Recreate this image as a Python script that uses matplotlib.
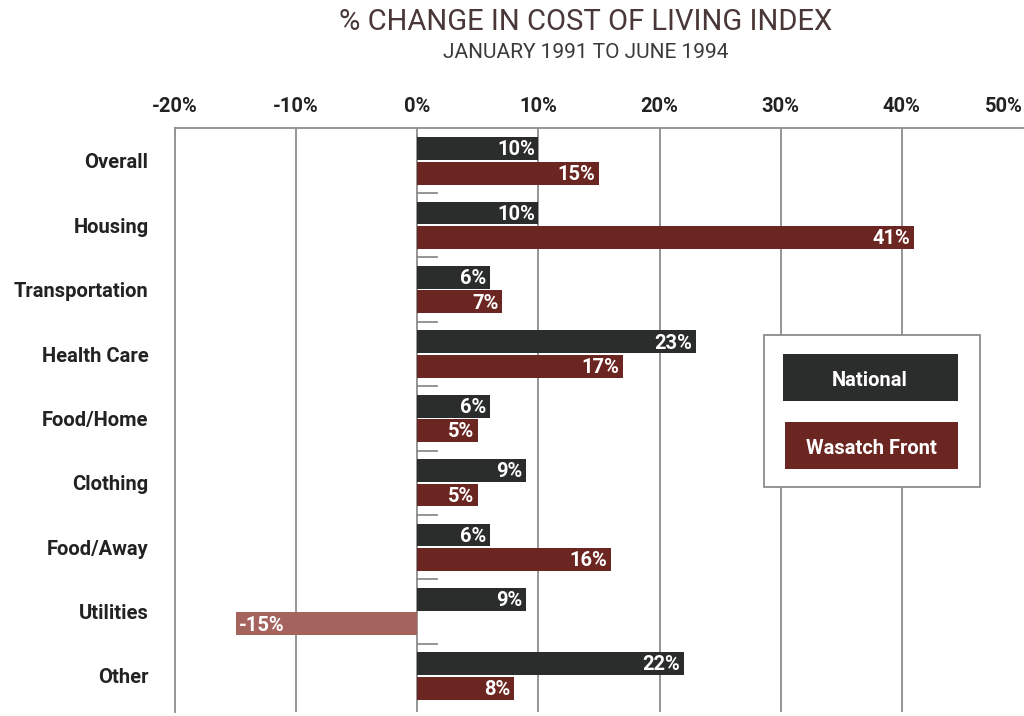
import matplotlib.pyplot as plt
from matplotlib.patches import Rectangle

categories = ['Overall', 'Housing', 'Transportation', 'Health Care', 'Food/Home',
              'Clothing', 'Food/Away', 'Utilities', 'Other']
national = [10, 10, 6, 23, 6, 9, 6, 9, 22]
wasatch = [15, 41, 7, 17, 5, 5, 16, -15, 8]
xticks = [-20, -10, 0, 10, 20, 30, 40, 50]

dark = '#2a2d2b'
maroon = '#6b2621'
light_maroon = '#a5635e'
grid_gray = '#8c8c8c'

plt.rcParams['font.family'] = ['Roboto', 'DejaVu Sans']

fig = plt.figure(figsize=(10.24, 7.16), dpi=100)
ax = fig.add_axes([175 / 1024, 4 / 716, 848 / 1024, 584 / 716])

h = 0.355
off = 0.19
fs = 14.5
ypos = list(range(len(categories)))

for i in ypos:
    n = national[i]
    w = wasatch[i]
    ax.barh(i - off, n, height=h, color=dark, zorder=3)
    wc = light_maroon if w < 0 else maroon
    ax.barh(i + off, w, height=h, color=wc, zorder=3)
    ax.text(n - 0.3, i - off + 0.02, f'{n}%', ha='right', va='center',
            color='white', fontsize=fs, fontweight='bold', zorder=4)
    if w < 0:
        ax.text(w + 0.3, i + off + 0.02, f'{w}%', ha='left', va='center',
                color='white', fontsize=fs, fontweight='bold', zorder=4)
    else:
        ax.text(w - 0.3, i + off + 0.02, f'{w}%', ha='right', va='center',
                color='white', fontsize=fs, fontweight='bold', zorder=4)

# short separators at 0 between groups
for i in ypos[:-1]:
    ax.plot([0, 1.65], [i + 0.5, i + 0.5], color=grid_gray, lw=1.3, zorder=2)

ax.set_xlim(-20, 50)
ax.set_ylim(8.56, -0.51)

for x in xticks[1:-1]:
    ax.axvline(x, color=grid_gray, lw=1.3, zorder=1)

ax.xaxis.tick_top()
ax.set_xticks(xticks)
ax.set_xticklabels([f'{x}%' for x in xticks], fontsize=fs, fontweight='bold',
                   color='#222222')
ax.get_xticklabels()[-1].set_horizontalalignment('right')
ax.tick_params(axis='x', length=0, pad=9)

ax.set_yticks(ypos)
ax.set_yticklabels(categories, fontsize=fs, fontweight='bold', color='#222222')
ax.tick_params(axis='y', length=0, pad=19)

for s in ['right', 'bottom']:
    ax.spines[s].set_visible(False)
for s in ['top', 'left']:
    ax.spines[s].set_color(grid_gray)
    ax.spines[s].set_linewidth(1.3)

# legend box
tr = fig.transFigure
fig.patches.append(Rectangle((764 / 1024, 1 - 487 / 716), 216 / 1024, 152 / 716,
                             transform=tr, facecolor='white', edgecolor=grid_gray,
                             lw=1.3, zorder=5))
fig.patches.append(Rectangle((783 / 1024, 1 - 401 / 716), 175 / 1024, 47 / 716,
                             transform=tr, facecolor=dark, edgecolor='none', zorder=6))
fig.patches.append(Rectangle((785 / 1024, 1 - 469 / 716), 173 / 1024, 47 / 716,
                             transform=tr, facecolor=maroon, edgecolor='none', zorder=6))
fig.text(870 / 1024, 1 - 380 / 716, 'National', ha='center', va='center',
         color='white', fontsize=fs, fontweight='bold', zorder=7)
fig.text(871 / 1024, 1 - 448 / 716, 'Wasatch Front', ha='center', va='center',
         color='white', fontsize=fs, fontweight='bold', zorder=7)

fig.text(586 / 1024, 1 - 22 / 716, '% CHANGE IN COST OF LIVING INDEX', ha='center',
         va='center', fontsize=21, color='#4a3838')
fig.text(586 / 1024, 1 - 53 / 716, 'JANUARY 1991 TO JUNE 1994', ha='center',
         va='center', fontsize=15, color='#3a3a3a')

fig.savefig('out.png', dpi=100)
